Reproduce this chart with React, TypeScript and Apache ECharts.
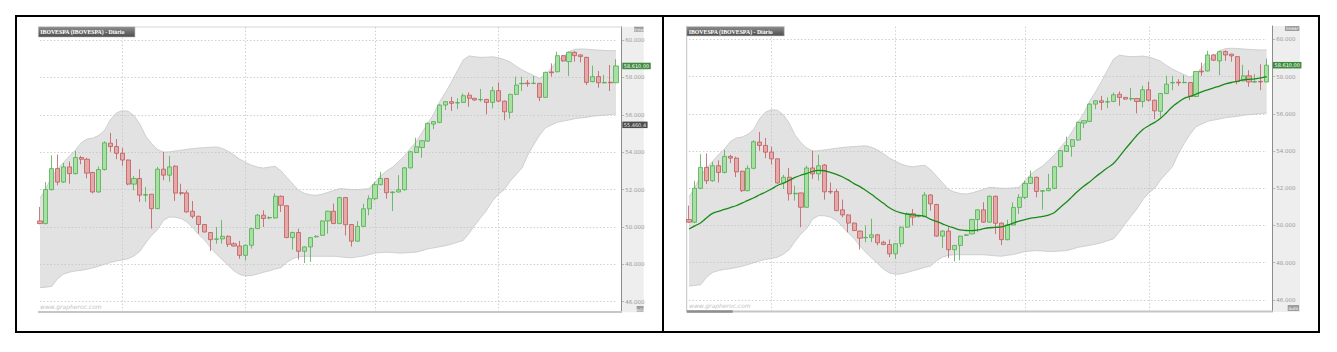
import React, { useEffect, useRef } from "react";
import * as echarts from "echarts";

// ---- data (IBOVESPA daily) ----
const opens = [50320,50180,51995,53120,52400,53210,52850,53710,53620,52910,51870,53070,54480,54300,53940,53580,52290,52590,51700,51750,50980,53090,52770,53250,51830,51820,50840,50570,50130,49700,49340,49360,49500,49100,48980,48480,49020,49910,50630,50480,50480,51640,51130,49430,49700,48700,48930,49470,49550,50320,50840,50180,51570,50130,49240,50030,50970,51510,52260,52590,51840,51870,51990,53160,53980,54250,54590,55500,55590,56520,56700,56630,56660,57050,56880,56800,56820,56660,57290,56730,56130,57090,57660,57700,57670,57680,56930,58290,58300,59160,58840,59340,59200,59070,57770,58040,57700,57740,57710];
const closes = [50180,52000,53120,52400,53210,52850,53710,53620,52880,51870,53070,54500,54300,53940,53580,52290,52590,51700,51730,50980,53090,52770,53210,51810,51800,50800,50570,50130,49730,49320,49360,49500,49070,48980,48480,49020,49910,50630,50450,50500,51640,51160,49430,49700,48700,48930,49430,49500,50320,50840,50180,51570,50120,49240,50030,50970,51510,52260,52590,51830,51870,51990,53160,54020,54290,54610,55540,55630,56520,56700,56610,56650,57020,56880,56790,56820,56660,57290,56730,56160,57090,57590,57680,57660,57690,56930,58270,58250,59160,58880,59340,59160,59110,57730,58040,57710,57730,57710,58610];
const lows = [50140,50130,51950,52230,52350,52310,52800,53350,52600,51800,51830,53020,54020,53620,53270,52230,51960,51340,51340,49910,50950,52500,52410,51390,51690,50760,50450,49640,49700,48710,49100,49110,48930,48950,48300,48210,48840,49880,50000,50420,50440,50800,49400,48790,48250,48070,48130,49430,49520,49640,50150,50150,49540,48950,49200,49990,50620,51420,52230,51510,50850,51840,51950,53120,53950,53700,54550,55230,55550,56250,56200,56300,56630,56430,56750,56700,56020,56340,56660,55710,55800,57050,57270,57500,57640,56730,56900,58040,58270,58840,58070,58840,58800,57590,57740,57450,57680,57270,57690];
const highs = [51070,52400,53830,53870,53420,53500,54060,53800,53700,52950,53230,54580,55030,54700,54230,53600,52720,53090,52140,51760,53210,54020,53800,53300,52310,51960,51390,50600,50160,49720,50000,50360,49550,49180,49250,49050,49950,50700,50890,50560,51790,51680,51160,49750,49910,48960,49460,49550,50360,50870,51250,51620,51600,50160,50310,51240,51690,52410,52950,52620,51900,52770,53200,54050,54770,54640,55580,55660,56560,56720,56960,56880,57140,57200,56900,57380,56850,57500,57730,56760,57120,58040,58040,57860,58070,57700,58300,58750,59380,59200,59380,59410,59230,59100,58630,58340,58130,58660,58970];
const upperBand = [51530,52050,52700,53100,53450,53800,54100,54500,54700,54750,54900,55170,55750,56100,56220,56190,55950,55500,54850,54450,54150,54000,54020,54060,54100,54150,54190,54220,54240,54260,54280,54200,54050,53850,53620,53450,53300,53200,53150,53200,53240,53000,52650,52300,51950,51800,51720,51690,51750,51850,51950,52050,52030,52000,51995,52020,52050,52400,52750,53000,53200,53500,53800,54200,54550,55050,55550,56050,56700,57200,57750,58350,58930,59150,59100,59070,59080,59100,59050,58950,58820,58600,58400,58250,58100,57950,58150,58500,58900,59100,59380,59500,59520,59510,59480,59460,59440,59430,59430];
const lowerBand = [46750,46780,46820,47230,47480,47580,47640,47680,47740,47810,47900,48000,48100,48180,48230,48300,48450,48700,49150,49550,49850,50350,50530,50520,50450,50270,49950,49600,49300,48900,48550,48250,47950,47650,47450,47380,47400,47480,47570,47650,47750,47820,48100,48300,48400,48430,48430,48430,48430,48430,48430,48400,48370,48350,48400,48440,48520,48600,48630,48650,48630,48600,48610,48630,48650,48730,48830,48880,48940,49000,49080,49180,49280,49650,50100,50500,50900,51400,51750,52000,52450,52800,53150,53850,54400,54900,55300,55450,55600,55660,55720,55790,55830,55860,55920,55950,55980,56010,56040];
const ma20 = [49810,49980,50150,50420,50650,50760,50860,50960,51060,51200,51350,51490,51650,51800,51960,52150,52270,52420,52580,52700,52800,52910,52960,52940,52850,52750,52620,52450,52250,52090,51880,51660,51420,51190,50950,50780,50680,50610,50570,50540,50490,50330,50220,50090,49960,49860,49760,49730,49720,49760,49830,49880,49900,49930,50020,50130,50230,50320,50400,50440,50490,50560,50700,50980,51250,51550,51850,52120,52350,52620,52860,53100,53330,53700,54100,54470,54850,55160,55360,55540,55760,56060,56380,56620,56830,56930,57050,57180,57280,57390,57490,57600,57680,57740,57820,57850,57870,57930,58000];
const yTicks = [46000, 48000, 50000, 52000, 54000, 56000, 58000, 60000];
const monthStartIdx = [14, 35, 57, 78];
const hiddenLevel = 55460.4;
const titleText = "IBOVESPA (IBOVESPA) - Diário";
const watermark = "www.grapheroc.com";

const categories = opens.map((_, i) => "d" + (i + 1));

const fmtAxis = (v: number) => (v / 1000).toFixed(3);
const fmtPrice = (v: number, dec = 2) => {
  const s = v.toFixed(dec);
  const [a, b] = s.split(".");
  return a.replace(/\B(?=(\d{3})+(?!\d))/g, ".") + "," + b;
};

const UP_FILL = "#a6e0a2";
const UP_BORDER = "#52ad52";
const DN_FILL = "#e6a9a9";
const DN_BORDER = "#bf5a5a";

function panelSeries(g: number, withMA: boolean, withHidden: boolean) {
  const last = closes[closes.length - 1];
  const gridLines = [
    ...yTicks.map((v) => ({ yAxis: v })),
    ...monthStartIdx.map((i) => ({ xAxis: categories[i] })),
  ];
  const priceTags: any[] = [
    {
      yAxis: last,
      label: { formatter: fmtPrice(last), backgroundColor: "#3e8a3e", color: "#ffffff", opacity: 1 },
    },
  ];
  if (withHidden) {
    priceTags.push({
      yAxis: hiddenLevel,
      label: { formatter: fmtPrice(hiddenLevel, 1), backgroundColor: "#4a4a4a", color: "#e8e8e8", opacity: 1 },
    });
  }
  const s: any[] = [
    {
      type: "line",
      xAxisIndex: g,
      yAxisIndex: g,
      data: lowerBand,
      stack: "band" + g,
      symbol: "none",
      silent: true,
      z: 1,
      lineStyle: { color: "#c6c6c6", width: 0.8 },
    },
    {
      type: "line",
      xAxisIndex: g,
      yAxisIndex: g,
      data: upperBand.map((u, i) => u - lowerBand[i]),
      stack: "band" + g,
      symbol: "none",
      silent: true,
      z: 1,
      lineStyle: { color: "#c6c6c6", width: 0.8 },
      areaStyle: { color: "#e2e2e2", opacity: 1 },
      markLine: {
        silent: true,
        z: 2,
        symbol: ["none", "none"],
        label: { show: false },
        lineStyle: { color: "#c4c4c4", width: 0.8, type: [1.5, 2] },
        data: gridLines,
      },
    },
    {
      type: "candlestick",
      xAxisIndex: g,
      yAxisIndex: g,
      data: opens.map((o, i) => [o, closes[i], lows[i], highs[i]]),
      barWidth: 4.6,
      clip: false,
      z: 3,
      itemStyle: {
        color: UP_FILL,
        color0: DN_FILL,
        borderColor: UP_BORDER,
        borderColor0: DN_BORDER,
        borderWidth: 0.8,
      },
      markLine: {
        silent: true,
        z: 6,
        symbol: ["none", "none"],
        lineStyle: { color: "rgba(0,0,0,0)", width: 1, opacity: 1 },
        label: {
          show: true,
          position: "end",
          distance: 6.3,
          fontSize: 5,
          fontFamily: "DejaVu Sans",
          opacity: 1,
          padding: [1, 1.5, 0.5, 1.5],
        },
        data: priceTags,
      },
    },
  ];
  if (withMA) {
    s.push({
      type: "line",
      xAxisIndex: g,
      yAxisIndex: g,
      data: ma20,
      symbol: "none",
      smooth: 0.4,
      silent: true,
      z: 4,
      lineStyle: { color: "#188a18", width: 1.3 },
    });
  }
  return s;
}

function yAxisFor(g: number, offset: number, min: number, max: number) {
  return {
    gridIndex: g,
    type: "value",
    position: "right",
    offset,
    min,
    max,
    axisLine: { show: true, lineStyle: { color: "#8c8c8c", width: 1 } },
    axisTick: { show: true, length: 2.5, customValues: yTicks, lineStyle: { color: "#aaaaaa", width: 0.8 } },
    axisLabel: {
      customValues: yTicks,
      formatter: (v: number) => fmtAxis(v),
      fontSize: 5.5,
      color: "#9a9a9a",
      margin: 3.5,
      fontFamily: "DejaVu Sans",
    },
    splitLine: { show: false },
  };
}

function xAxisFor(g: number) {
  return {
    gridIndex: g,
    type: "category",
    data: categories,
    boundaryGap: false,
    axisLine: { show: false },
    axisTick: { show: false },
    axisLabel: { show: false },
    splitLine: { show: false },
  };
}

function titleBox(x: number, y: number, w: number, h: number) {
  return [
    {
      type: "rect",
      z: 100,
      shape: { x, y, width: w, height: h },
      style: {
        fill: {
          type: "linear",
          x: 0,
          y: 0,
          x2: 0,
          y2: 1,
          colorStops: [
            { offset: 0, color: "#8e8e8e" },
            { offset: 1, color: "#4c4c4c" },
          ],
        },
        stroke: "#c8c8c8",
        lineWidth: 0.6,
      },
    },
    {
      type: "text",
      z: 101,
      x: x + 2,
      y: y + h / 2 + 0.3,
      style: {
        text: titleText,
        fill: "#ffffff",
        font: "bold 5.8px 'Liberation Serif'",
        verticalAlign: "middle",
        align: "left",
      },
    },
  ];
}

function smallBox(x: number, y: number, w: number, h: number, text: string, fs: number) {
  return [
    { type: "rect", z: 100, shape: { x, y, width: w, height: h }, style: { fill: "#9c9c9c" } },
    {
      type: "text",
      z: 101,
      x: x + w / 2,
      y: y + h / 2 + 0.2,
      style: { text, fill: "#ffffff", font: `${fs}px 'DejaVu Sans'`, align: "center", verticalAlign: "middle" },
    },
  ];
}

export default function App() {
  const ref = useRef<HTMLDivElement>(null);
  useEffect(() => {
    if (!ref.current) return;
    const chart = echarts.init(ref.current, undefined, { renderer: "svg" });
    const graphic: any[] = [
      { type: "rect", z: -1, shape: { x: 622, y: 26.7, width: 21.7, height: 285.5 }, style: { fill: "#eeeeee" } },
      { type: "rect", z: -1, shape: { x: 1273, y: 26, width: 27, height: 286 }, style: { fill: "#eeeeee" } },
      { type: "line", z: 1, shape: { x1: 135, y1: 27, x2: 622, y2: 27 }, style: { stroke: "#cccccc", lineWidth: 0.8 } },
      { type: "line", z: 1, shape: { x1: 686.7, y1: 26, x2: 686.7, y2: 311 }, style: { stroke: "#c2c2c2", lineWidth: 1 } },
      { type: "rect", z: 1, shape: { x: 38, y: 311, width: 584, height: 2 }, style: { fill: "#c6c6c6" } },
      { type: "rect", z: 1, shape: { x: 686.7, y: 310.5, width: 586, height: 2 }, style: { fill: "#c6c6c6" } },
      { type: "rect", z: 2, shape: { x: 686.7, y: 310.3, width: 46, height: 2.4 }, style: { fill: "#8e8e8e" } },
      {
        type: "text",
        z: 5,
        x: 40,
        y: 306,
        style: { text: watermark, fill: "#c2c2c2", font: "italic 6px 'DejaVu Sans'", verticalAlign: "middle" },
      },
      {
        type: "text",
        z: 5,
        x: 689,
        y: 305.7,
        style: { text: watermark, fill: "#c2c2c2", font: "italic 6px 'DejaVu Sans'", verticalAlign: "middle" },
      },
      ...titleBox(38.3, 26.7, 96.7, 10.4),
      ...titleBox(686.7, 26.5, 97.6, 9.4),
      ...smallBox(634, 26.7, 9.6, 5, "linear", 4),
      ...smallBox(1285, 26, 14.3, 5, "linear", 4.3),
      ...smallBox(636.6, 306, 7, 5.6, "auto", 4),
      ...smallBox(1287.7, 305, 11.4, 6, "auto", 4.3),
      {
        type: "rect",
        z: 200,
        shape: { x: 16, y: 16, width: 647, height: 316 },
        style: { fill: "none", stroke: "#000000", lineWidth: 2 },
      },
      {
        type: "rect",
        z: 200,
        shape: { x: 663, y: 16, width: 656, height: 316 },
        style: { fill: "none", stroke: "#000000", lineWidth: 2 },
      },
    ];

    chart.setOption({
      animation: false,
      backgroundColor: "#ffffff",
      grid: [
        { left: 40, top: 26.7, width: 576, height: 285.3, containLabel: false },
        { left: 689, top: 26, width: 577.7, height: 285.7, containLabel: false },
      ],
      xAxis: [xAxisFor(0), xAxisFor(1)],
      yAxis: [yAxisFor(0, 5.7, 45450, 60710), yAxisFor(1, 6, 45370, 60715)],
      series: [...panelSeries(0, false, true), ...panelSeries(1, true, false)],
      graphic,
    });
    return () => chart.dispose();
  }, []);
  return (
    <div
      ref={ref}
      style={{ position: "fixed", left: 0, top: 0, width: 1337, height: 352, background: "#fff" }}
    />
  );
}
